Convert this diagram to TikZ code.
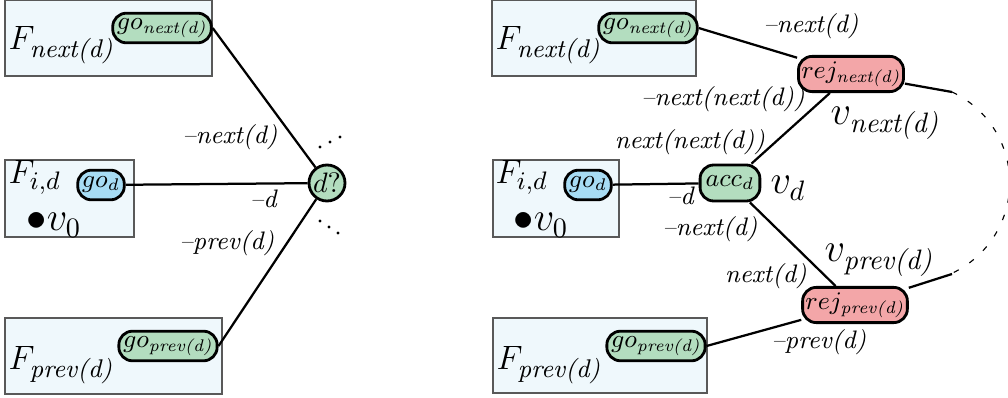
\documentclass[tikz,border=0pt]{standalone}
\usepackage{amsmath}
\definecolor{boxfill}{HTML}{EFF8FC}
\definecolor{gogreen}{HTML}{B3DDBF}
\definecolor{goblue}{HTML}{A7DCF4}
\definecolor{rejred}{HTML}{F3A6A8}
\begin{document}
\begin{tikzpicture}[x=0.125mm,y=-0.125mm,
    pill/.style={draw,line width=1pt,rounded corners=1.7mm,inner xsep=1.5pt,inner ysep=0pt,minimum height=3.7mm,font=\small},
    edge/.style={line width=0.8pt},
    lab/.style={inner sep=0pt,font=\small},
    big/.style={inner sep=0pt,anchor=base west,font=\Large},
    fname/.style={big,font=\fontsize{13}{15}\selectfont},
    fbox/.style={fill=boxfill,draw=black!65,line width=0.6pt}]
  \useasboundingbox (0,0) rectangle (1008,398);
  \filldraw[fbox] (5,0) rectangle (212,76);
  \filldraw[fbox] (5,160) rectangle (134,237);
  \filldraw[fbox] (5,318) rectangle (222,394);
  \filldraw[fbox] (492,0) rectangle (696,76);
  \filldraw[fbox] (493,160) rectangle (619,237);
  \filldraw[fbox] (493,318) rectangle (707,393);
  \node[fname] (fnL) at (8,50) {$F_{\textit{next(d)}}$};
  \node[fname] (fiL) at (8,184) {$F_{i,d}$};
  \node[fname] (fpL) at (8,370) {$F_{\textit{prev(d)}}$};
  \node[big] (v0L) at (26,231) {$\bullet v_0$};
  \node[fname] (fnR) at (495,50) {$F_{\textit{next(d)}}$};
  \node[fname] (fiR) at (495,184) {$F_{i,d}$};
  \node[fname] (fpR) at (496,370) {$F_{\textit{prev(d)}}$};
  \node[big] (v0R) at (513,231) {$\bullet v_0$};

  \node[pill,fill=gogreen] (gonL) at (162,28) {$go_{\textit{next(d)}}$};
  \node[pill,fill=goblue] (godL) at (101,185) {$go_d$};
  \node[pill,fill=gogreen] (gopL) at (168,346) {$go_{\textit{prev(d)}}$};
  \node[draw,circle,line width=1pt,fill=gogreen,minimum size=4.5mm,inner sep=0pt] (dq) at (327,183) {$d?$};
  \draw[edge] (gonL.east) -- (dq);
  \draw[edge] (godL) -- (dq);
  \draw[edge] (dq) -- (gopL.east);
  \foreach \i in {0,1,2} {
    \fill (320+10*\i,147-5*\i) circle[radius=1.7];
    \fill (320+9*\i,221+6*\i) circle[radius=1.7];
  }
  \node[lab] (l1) at (230,137) {\textit{--next(d)}};
  \node[lab] (l2) at (264,199) {\textit{--d}};
  \node[lab] (l3) at (227,243) {\textit{--prev(d)}};

  \node[pill,fill=gogreen] (gonR) at (648,28) {$go_{\textit{next(d)}}$};
  \node[pill,fill=goblue] (godR) at (588,185) {$go_d$};
  \node[pill,fill=gogreen] (gopR) at (656,346) {$go_{\textit{prev(d)}}$};
  \node[pill,fill=gogreen,minimum height=4.5mm,inner xsep=2pt] (acc) at (730,183) {$acc_d$};
  \node[pill,fill=rejred,minimum height=4.4mm,inner xsep=1pt] (rejN) at (851,74) {$rej_{\textit{next(d)}}$};
  \node[pill,fill=rejred,minimum height=4.4mm,inner xsep=1pt] (rejP) at (855,305) {$rej_{\textit{prev(d)}}$};
  \coordinate (aN) at (952,92);
  \coordinate (aP) at (952,274);
  \draw[edge] (gonR.east) -- (rejN);
  \draw[edge] (godR) -- (acc);
  \draw[edge] (rejN) -- (acc);
  \draw[edge] (acc) -- (rejP);
  \draw[edge] (gopR.east) -- (rejP);
  \draw[edge] (rejN) -- (aN);
  \draw[edge] (rejP) -- (aP);
  \draw[line width=0.4pt,dash pattern=on 2pt off 4.5pt] (aN) arc[start angle=-65,end angle=65,radius=100];
  \node[lab] (r1) at (811,26) {\textit{--next(d)}};
  \node[lab] (r2) at (723,99) {\textit{--next(next(d))}};
  \node[lab] (r3) at (690,142) {\textit{next(next(d))}};
  \node[lab] (r4) at (681,196) {\textit{--d}};
  \node[lab] (r5) at (710,229) {\textit{--next(d)}};
  \node[lab] (r6) at (766,276) {\textit{next(d)}};
  \node[lab] (r7) at (819,342) {\textit{--prev(d)}};
  \node[big] (vn) at (830,125) {$v_{\textit{next(d)}}$};
  \node[big] (vd) at (770,194) {$v_d$};
  \node[big] (vp) at (824,262) {$v_{\textit{prev(d)}}$};
\end{tikzpicture}
\end{document}
